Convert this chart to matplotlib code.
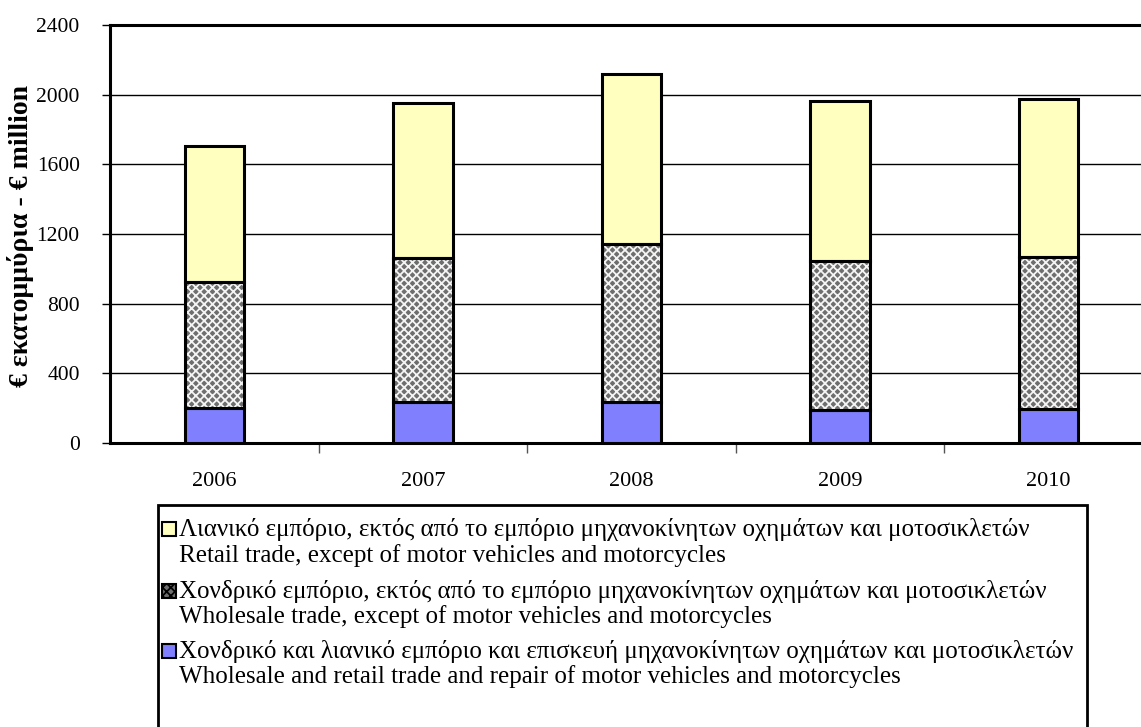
import matplotlib
matplotlib.use("Agg")
import matplotlib.pyplot as plt
from matplotlib.patches import Rectangle
import numpy as np

years = ["2006", "2007", "2008", "2009", "2010"]
motor = [201, 234, 234, 192, 198]
wholesale = [725, 826, 907, 855, 870]
retail = [779, 890, 978, 915, 906]

legend_gr = [
    "Λιανικό εμπόριο, εκτός από το εμπόριο μηχανοκίνητων οχημάτων και μοτοσικλετών",
    "Χονδρικό εμπόριο, εκτός από το εμπόριο μηχανοκίνητων οχημάτων και μοτοσικλετών",
    "Χονδρικό και λιανικό εμπόριο και επισκευή μηχανοκίνητων οχημάτων και μοτοσικλετών",
]
legend_en = [
    "Retail trade, except of motor vehicles and motorcycles",
    "Wholesale trade, except of motor vehicles and motorcycles",
    "Wholesale and retail trade and repair of motor vehicles and motorcycles",
]
yticks = [0, 400, 800, 1200, 1600, 2000, 2400]
ylabel = "€ εκατομμύρια - € million"

plt.rcParams['font.family'] = ['Liberation Serif', 'DejaVu Serif']
plt.rcParams['hatch.linewidth'] = 1.3

YELLOW = '#FFFFC0'
BLUE = '#8080FF'
GRAY = '#6e6e6e'

fig = plt.figure(figsize=(11.41, 7.27), dpi=100)
W, H = 1141, 727
left = 110.3
step = 208.5
ax = fig.add_axes([left / W, 1 - 443 / H, 5 * step / W, (443 - 25) / H])

x = np.arange(len(years))
bw = 0.285
m = np.array(motor)
w = np.array(wholesale)
r = np.array(retail)

ax.bar(x, m, bw, color=BLUE, edgecolor='black', linewidth=2.2, zorder=3)
ax.bar(x, w, bw, bottom=m, color=GRAY, edgecolor='#f4f4f4', linewidth=0,
       hatch='xxxx', zorder=3)
ax.bar(x, w, bw, bottom=m, fill=False, edgecolor='black', linewidth=2.2, zorder=4)
ax.bar(x, r, bw, bottom=m + w, color=YELLOW, edgecolor='black', linewidth=2.2, zorder=3)

ax.set_xlim(-0.5, 4.5)
ax.set_ylim(0, 2400)
ax.set_yticks(yticks)
ax.set_yticklabels([str(v) for v in yticks], fontsize=15.5)
ax.yaxis.grid(True, color='black', linewidth=1.0, zorder=0)
ax.set_axisbelow(True)

ax.set_xticks(x)
ax.set_xticklabels(years, fontsize=16)
ax.tick_params(axis='x', which='major', length=0, pad=21)
ax.set_xticks(np.arange(0.5, 4.5, 1.0), minor=True)
ax.tick_params(axis='x', which='minor', length=7, width=1, direction='out', color='#555555')
ax.tick_params(axis='y', length=6, width=1, direction='out', pad=16)

for s in ['left', 'bottom', 'top']:
    ax.spines[s].set_linewidth(2.2)
    ax.spines[s].set_color('black')
ax.spines['right'].set_visible(False)

fig.text(21 / W, 1 - 236 / H, ylabel, rotation=90, ha='center', va='center',
         fontsize=20, fontweight='bold')


def fx(px):
    return px / W


def fy(py):
    return 1 - py / H


frame = Rectangle((fx(158), fy(760)), fx(1087) - fx(158), fy(505) - fy(760),
                  transform=fig.transFigure, facecolor='white', edgecolor='black',
                  linewidth=2.0, zorder=5)
fig.patches.append(frame)

base_gr = [536, 598, 658]
base_en = [562, 623, 683]
handle_styles = [dict(facecolor=YELLOW), dict(facecolor=GRAY, hatch='xxxx'),
                 dict(facecolor=BLUE)]
for i in range(3):
    yb = base_gr[i]
    hs = Rectangle((fx(162), fy(yb)), fx(176) - fx(162), fy(yb - 14) - fy(yb),
                   transform=fig.transFigure, edgecolor='black', linewidth=1.5,
                   zorder=6, **handle_styles[i])
    fig.patches.append(hs)
    fig.text(fx(179), fy(yb), legend_gr[i], fontsize=18, ha='left',
             va='baseline', zorder=7)
    fig.text(fx(179), fy(base_en[i]), legend_en[i], fontsize=18, ha='left',
             va='baseline', zorder=7)

fig.savefig("out.png", dpi=100)
